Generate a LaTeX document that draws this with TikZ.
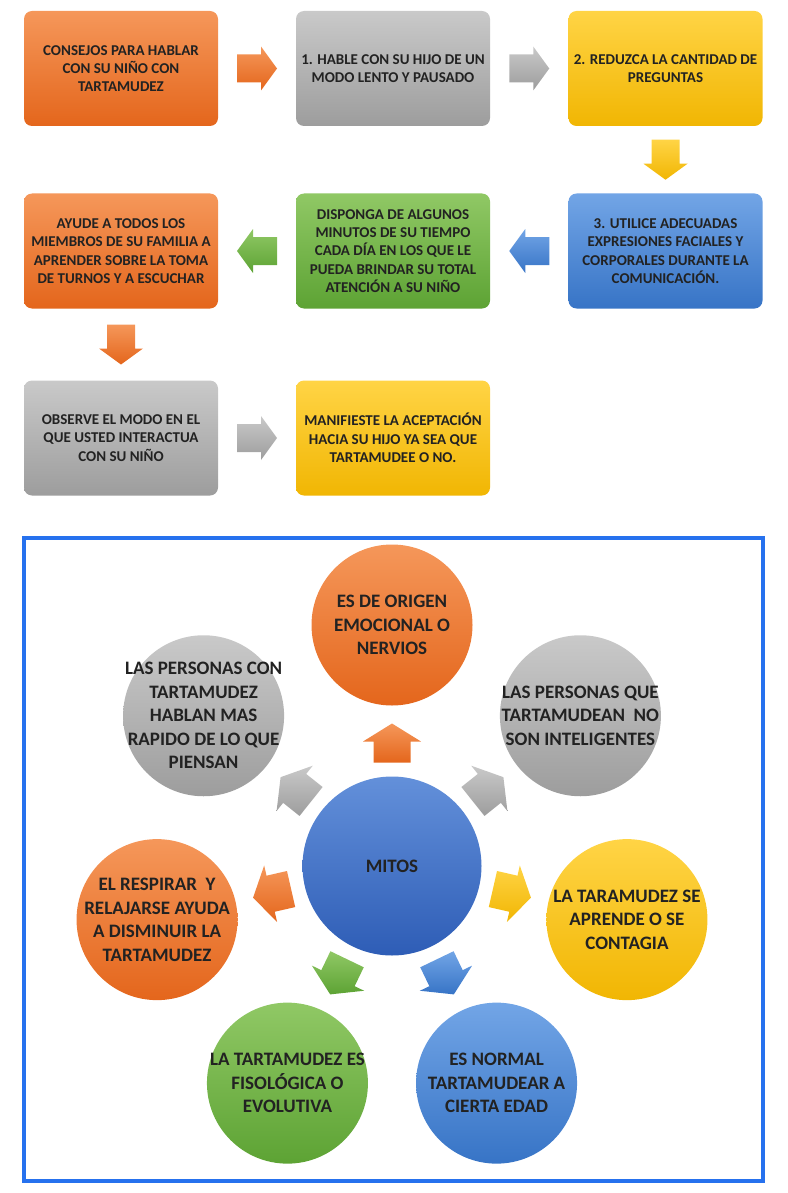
\documentclass[tikz,border=0pt]{standalone}
\usepackage{fontspec}
\setmainfont{Carlito}
\usetikzlibrary{calc}
\definecolor{orange-top}{HTML}{F5975A}
\definecolor{orange-bot}{HTML}{E4661C}
\definecolor{gray-top}{HTML}{C9C9C9}
\definecolor{gray-bot}{HTML}{9D9D9D}
\definecolor{yellow-top}{HTML}{FFD445}
\definecolor{yellow-bot}{HTML}{F1B603}
\definecolor{blue-top}{HTML}{72A5E6}
\definecolor{blue-bot}{HTML}{3774C6}
\definecolor{green-top}{HTML}{90C865}
\definecolor{green-bot}{HTML}{5DA334}
\definecolor{core-top}{HTML}{6390DA}
\definecolor{core-bot}{HTML}{2E5DB6}
\definecolor{frame-blue}{HTML}{2671EE}
\definecolor{text-dark}{HTML}{222222}

\tikzset{
  % block arrows, drawn pointing right and turned with rotate=
  flowtip/.pic={\path[pic actions] (-20pt,-14pt) -- (4pt,-14pt) -- (4pt,-22pt)
    -- (20pt,0pt) -- (4pt,22pt) -- (4pt,14pt) -- (-20pt,14pt) -- cycle;},
  raytip/.pic={\path[pic actions] (-19.5pt,-18.5pt) -- (1.5pt,-18.5pt)
    -- (1.5pt,-29pt) -- (19.5pt,0pt) -- (1.5pt,29pt) -- (1.5pt,18.5pt)
    -- (-19.5pt,18.5pt) -- cycle;}
}

\begin{document}
\begin{tikzpicture}[x=1pt, y=-1pt,
    every node/.style={text=text-dark},
    orangefill/.style={top color=orange-top, bottom color=orange-bot},
    grayfill/.style={top color=gray-top, bottom color=gray-bot},
    yellowfill/.style={top color=yellow-top, bottom color=yellow-bot},
    bluefill/.style={top color=blue-top, bottom color=blue-bot},
    greenfill/.style={top color=green-top, bottom color=green-bot},
    corefill/.style={top color=core-top, bottom color=core-bot},
    tipbox/.style={rounded corners=8pt, minimum width=194pt,
      minimum height=115pt, inner sep=0pt, align=center,
      font=\fontsize{15}{18.3}\selectfont\bfseries},
    mythcircle/.style={circle, minimum size=161pt, inner sep=0pt},
    mythtext/.style={inner sep=0pt, align=center,
      font=\fontsize{19}{23.5}\selectfont\bfseries}]
  \useasboundingbox (0,0) rectangle (787,1193);
  % Upper part: eight tips in a snake of rounded boxes
  \node[tipbox, orangefill] (consejos) at (121,68.5)
    {CONSEJOS PARA HABLAR\\CON SU NIÑO CON\\TARTAMUDEZ};
  \node[tipbox, grayfill] (paso1) at (393,68.5)
    {1. HABLE CON SU HIJO DE UN\\MODO LENTO Y PAUSADO};
  \node[tipbox, yellowfill] (paso2) at (665.5,68.5)
    {2. REDUZCA LA CANTIDAD DE\\PREGUNTAS};
  \node[tipbox, bluefill] (paso3) at (665.5,251)
    {3. UTILICE ADECUADAS\\EXPRESIONES FACIALES Y\\CORPORALES DURANTE LA\\COMUNICACIÓN.};
  \node[tipbox, greenfill] (paso4) at (393,251)
    {DISPONGA DE ALGUNOS\\MINUTOS DE SU TIEMPO\\CADA DÍA EN LOS QUE LE\\PUEDA BRINDAR SU TOTAL\\ATENCIÓN A SU NIÑO};
  \node[tipbox, orangefill] (paso5) at (121,251)
    {AYUDE A TODOS LOS\\MIEMBROS DE SU FAMILIA A\\APRENDER SOBRE LA TOMA\\DE TURNOS Y A ESCUCHAR};
  \node[tipbox, grayfill] (paso6) at (121,438)
    {OBSERVE EL MODO EN EL\\QUE USTED INTERACTUA\\CON SU NIÑO};
  \node[tipbox, yellowfill] (paso7) at (393,438)
    {MANIFIESTE LA ACEPTACIÓN\\HACIA SU HIJO YA SEA QUE\\TARTAMUDEE O NO.};
  % block arrows between the boxes
  \pic[orangefill] at ($(consejos.east)!0.5!(paso1.west)$) {flowtip};
  \pic[grayfill] at ($(paso1.east)!0.5!(paso2.west)$) {flowtip};
  \pic[yellowfill, rotate=-90] at ($(paso2.south)!0.5!(paso3.north)$) {flowtip};
  \pic[bluefill, rotate=180] at ($(paso3.west)!0.5!(paso4.east)$) {flowtip};
  \pic[greenfill, rotate=180] at ($(paso4.west)!0.5!(paso5.east)$) {flowtip};
  \pic[orangefill, rotate=-90] at ($(paso5.south)!0.5!(paso6.north)$) {flowtip};
  \pic[grayfill] at ($(paso6.east)!0.5!(paso7.west)$) {flowtip};

  % Lower part: the myths around one centre, framed
  \draw[frame-blue, line width=4pt] (24,538) rectangle (763,1181);
  \node[mythcircle, corefill, minimum size=179pt] (mitos) at (392,866) {};
  \node[mythtext] (mitos-txt) at (mitos) {MITOS};
  \foreach \i/\fillstyle/\txt in {
      0/orangefill/{ES DE ORIGEN\\EMOCIONAL O\\NERVIOS},
      1/grayfill/{LAS PERSONAS CON\\TARTAMUDEZ\\HABLAN MAS\\RAPIDO DE LO QUE\\PIENSAN},
      2/orangefill/{EL RESPIRAR\ \ Y\\RELAJARSE AYUDA\\A DISMINUIR LA\\TARTAMUDEZ},
      3/greenfill/{LA TARTAMUDEZ ES\\FISOLÓGICA O\\EVOLUTIVA},
      4/bluefill/{ES NORMAL\\TARTAMUDEAR A\\CIERTA EDAD},
      5/yellowfill/{LA TARAMUDEZ SE\\APRENDE O SE\\CONTAGIA},
      6/grayfill/{LAS PERSONAS QUE\\TARTAMUDEAN\ \ NO\\SON INTELIGENTES}} {
    \pic[\fillstyle, rotate={90+\i*360/7}]
      at ($(mitos)+({-90-\i*360/7}:123)$) {raytip};
    \node[mythcircle, \fillstyle] (myth\i)
      at ($(mitos)+({-90-\i*360/7}:241)$) {};
    \node[mythtext] (myth\i-txt) at (myth\i) {\txt};
  }
\end{tikzpicture}
\end{document}
